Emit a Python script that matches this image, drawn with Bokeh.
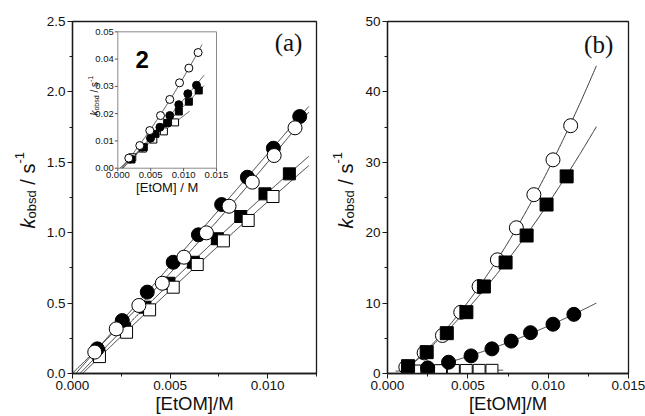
import numpy as np
from math import pi
from bokeh.plotting import figure
from bokeh.models import Range1d, SingleIntervalTicker, NumeralTickFormatter, Label
from bokeh.layouts import row
from bokeh.embed import file_html
from bokeh.resources import INLINE
from bokeh.core.properties import value

SANS = "Liberation Sans"
SERIF = "Liberation Serif"
NB = "\u00a0"

# ---------------- data: panel (a) ----------------
a_fc_x = [0.00127, 0.00255, 0.00383, 0.00516, 0.00645, 0.00764, 0.00896, 0.01029, 0.01164]
a_fc_y = [0.175, 0.376, 0.578, 0.790, 0.985, 1.200, 1.394, 1.600, 1.825]
a_oc_x = [0.00114, 0.00224, 0.00340, 0.00460, 0.00571, 0.00686, 0.00802, 0.00921, 0.01033, 0.01140]
a_oc_y = [0.152, 0.317, 0.483, 0.641, 0.826, 0.999, 1.188, 1.359, 1.548, 1.745]
a_fs_x = [0.00135, 0.00267, 0.00371, 0.00494, 0.00619, 0.00742, 0.00862, 0.00986, 0.01111]
a_fs_y = [0.140, 0.317, 0.471, 0.641, 0.790, 0.957, 1.115, 1.276, 1.418]
a_os_x = [0.00138, 0.00277, 0.00395, 0.00516, 0.00639, 0.00773, 0.00900, 0.01027]
a_os_y = [0.120, 0.293, 0.452, 0.613, 0.774, 0.942, 1.087, 1.257]

# ---------------- data: inset of (a) ----------------
i_oc_x = [0.00167, 0.00334, 0.00486, 0.00649, 0.00790, 0.00938, 0.01080, 0.01220]
i_oc_y = [0.0037, 0.0083, 0.0138, 0.0193, 0.0252, 0.0313, 0.0367, 0.0424]
i_fc_x = [0.00193, 0.00370, 0.00497, 0.00640, 0.00790, 0.00927, 0.01064, 0.01196]
i_fc_y = [0.0034, 0.0077, 0.0110, 0.0150, 0.0193, 0.0233, 0.0273, 0.0304]
i_fs_x = [0.00208, 0.00395, 0.00573, 0.00750, 0.00927, 0.01080, 0.01230]
i_fs_y = [0.0032, 0.0077, 0.0126, 0.0166, 0.0208, 0.0244, 0.0285]
i_os_x = [0.00220, 0.00380, 0.00540, 0.00700, 0.00870]
i_os_y = [0.0040, 0.0072, 0.0105, 0.0135, 0.0168]

# ---------------- data: panel (b) ----------------
b_oc_x = [0.00114, 0.00228, 0.00342, 0.00456, 0.00570, 0.00684, 0.00802, 0.00911, 0.01030, 0.01140]
b_oc_y = [0.90, 2.93, 5.40, 8.70, 12.36, 16.15, 20.70, 25.40, 30.35, 35.20]
b_fs_x = [0.00128, 0.00244, 0.00369, 0.00491, 0.00600, 0.00735, 0.00866, 0.00990, 0.01115]
b_fs_y = [1.04, 3.03, 5.73, 8.71, 12.36, 15.77, 19.60, 24.00, 28.00]
b_fc_x = [0.00250, 0.00380, 0.00520, 0.00650, 0.00770, 0.00890, 0.01030, 0.01160]
b_fc_y = [0.80, 1.60, 2.50, 3.50, 4.60, 5.80, 7.00, 8.40]
b_os_x = [0.00170, 0.00250, 0.00330, 0.00410, 0.00490, 0.00570, 0.00650]
b_os_y = [0.35, 0.38, 0.40, 0.42, 0.43, 0.44, 0.45]

# fit-line extents
a_fit_range = (0.0, 0.0121)
i_fit_range = {"oc": (0.0, 0.0128), "fc": (0.0, 0.0131), "fs": (0.0, 0.0131), "os": (0.0, 0.0109)}
b_fit_range = {"oc": (0.0, 0.0130), "fs": (0.0, 0.0130), "fc": (0.0, 0.0130), "os": (0.0005, 0.0072)}

# axes
A_X = (0.0, 0.0125)
A_Y = (0.0, 2.5)
B_X = (0.0, 0.015)
B_Y = (0.0, 50.0)
INSET_X = (0.0, 0.015)
INSET_Y = (0.0, 0.05)
inset_x_ticks = [0.0, 0.005, 0.010, 0.015]
inset_x_labels = ["0.000", "0.005", "0.010", "0.015"]
inset_y_ticks = [0.0, 0.01, 0.02, 0.03, 0.04, 0.05]
inset_y_labels = ["0.00", "0.01", "0.02", "0.03", "0.04", "0.05"]

# ---------------- geometry ----------------
FW_A, FW_B, FH = 244, 241, 352
BT, BB = 21, 43
LW_A, LW_B = 40, 40          # widths of the y-label strips
IN_L, IN_R = 0.1857, 0.5902   # inset box, fraction of frame (a) from left
IN_T, IN_B = 0.0293, 0.4168   # fraction of frame (a) from top


def inset_range(lo, hi, f0, f1):
    span = (hi - lo) / (f1 - f0)
    start = lo - f0 * span
    return Range1d(start, start + span)


ix_range = inset_range(INSET_X[0], INSET_X[1], IN_L, IN_R)
iy_range = inset_range(INSET_Y[0], INSET_Y[1], 1 - IN_B, 1 - IN_T)
SX = FW_A / (ix_range.end - ix_range.start)
SY = FH / (iy_range.end - iy_range.start)

EM = {"k": 0.5, "o": 0.556, "b": 0.556, "s": 0.5, "d": 0.556, " ": 0.278, NB: 0.278,
      "/": 0.278, "-": 0.333, "1": 0.556}


def tw(s, size):
    return sum(EM.get(c, 0.556) for c in s) * size


def fit_line(xs, ys, rng, deg=2):
    c = np.polyfit(np.asarray(xs) * 1000, ys, deg)
    xx = np.linspace(rng[0], rng[1], 300)
    yy = np.polyval(c, xx * 1000)
    m = yy >= 0
    return xx[m], yy[m]


def make_fig(xr, yr, fw, bl, br):
    p = figure(frame_width=fw, frame_height=FH, x_range=Range1d(*xr), y_range=Range1d(*yr),
               output_backend="svg", toolbar_location=None,
               min_border_left=bl, min_border_right=br, min_border_top=BT, min_border_bottom=BB)
    p.grid.visible = False
    p.background_fill_color = "white"
    p.border_fill_color = "white"
    p.outline_line_color = "#1a1a1a"
    p.outline_line_width = 1.3
    for ax in (p.xaxis[0], p.yaxis[0]):
        ax.major_tick_out = 5
        ax.major_tick_in = 0
        ax.minor_tick_out = 3
        ax.minor_tick_in = 0
        ax.axis_line_width = 1.3
        ax.axis_line_color = "#1a1a1a"
        ax.major_tick_line_color = "#1a1a1a"
        ax.minor_tick_line_color = "#1a1a1a"
        ax.major_label_text_font = SANS
        ax.major_label_text_font_size = "13.5px"
        ax.major_label_text_color = "#111111"
        ax.major_label_standoff = 2
    p.xaxis.axis_label = "[EtOM]/M"
    p.xaxis.axis_label_text_font = SANS
    p.xaxis.axis_label_text_font_size = "18.5px"
    p.xaxis.axis_label_text_font_style = "normal"
    p.xaxis.axis_label_text_color = "#111111"
    p.xaxis.axis_label_standoff = 0
    return p


def label_fig(width, yr):
    f = figure(frame_width=width, frame_height=FH, x_range=Range1d(0, width), y_range=Range1d(*yr),
               x_axis_type=None, y_axis_type=None, output_backend="svg", toolbar_location=None,
               min_border_left=0, min_border_right=0, min_border_top=BT, min_border_bottom=BB)
    f.outline_line_color = None
    f.background_fill_color = "white"
    f.border_fill_color = "white"
    return f


def vlabel(p, x0, y0, base_off, sy, main, sub, **rn):
    pieces = [("k", main, "italic", 0), ("obsd", sub, "normal", round(sub * 0.3)),
              (NB + "/" + NB + "s", main, "normal", 0), ("-1", sub, "normal", -round(main * 0.42))]
    y = y0
    for text, size, style, shift in pieces:
        p.add_layout(Label(x=x0, y=y, x_offset=base_off + shift, text=text, angle=pi / 2,
                           text_font=SANS, text_font_size=f"{size}px", text_font_style=style,
                           text_color="#111111", text_align="left", text_baseline="alphabetic",
                           **rn))
        y += tw(text, size) / sy


def markers(p, x, y, kind, filled, size, **rn):
    p.scatter(x, y, marker=kind, size=size, fill_color="black" if filled else "white",
              line_color="black", line_width=1, **rn)


# ================= panel (a) =================
la = label_fig(LW_A, A_Y)
sy_a = FH / (A_Y[1] - A_Y[0])
vlabel(la, 27, 1.03, 0, sy_a, 20, 13)

pa = make_fig(A_X, A_Y, FW_A, 72 - LW_A, 4)
pa.xaxis.ticker = SingleIntervalTicker(interval=0.005, num_minor_ticks=2)
pa.yaxis.ticker = SingleIntervalTicker(interval=0.5, num_minor_ticks=2)
pa.xaxis.formatter = NumeralTickFormatter(format="0.000")
pa.yaxis.formatter = NumeralTickFormatter(format="0.0")

for xs, ys in ((a_fc_x, a_fc_y), (a_oc_x, a_oc_y), (a_fs_x, a_fs_y), (a_os_x, a_os_y)):
    fx, fy = fit_line(xs, ys, a_fit_range)
    pa.line(fx, fy, line_color="#222222", line_width=0.9)
markers(pa, a_fs_x, a_fs_y, "square", True, 12)
markers(pa, a_os_x, a_os_y, "square", False, 12)
markers(pa, a_fc_x, a_fc_y, "circle", True, 14)
markers(pa, a_oc_x, a_oc_y, "circle", False, 14)

pa.add_layout(Label(x=0.01178, y=2.35, text="(a)", text_align="right", text_baseline="middle",
                    text_font=SERIF, text_font_size="25px", text_color="#111111"))

# ---- inset ----
pa.extra_x_ranges = {"ix": ix_range}
pa.extra_y_ranges = {"iy": iy_range}
R = dict(x_range_name="ix", y_range_name="iy")
pa.quad(left=[INSET_X[0]], right=[INSET_X[1]], bottom=[INSET_Y[0]], top=[INSET_Y[1]],
        fill_color="white", line_color="#8a8a8a", line_width=1, **R)
pa.segment(x0=inset_x_ticks, y0=[INSET_Y[0]] * 4, x1=inset_x_ticks, y1=[INSET_Y[0] - 3 / SY] * 4,
           line_color="#555555", line_width=1, **R)
pa.segment(x0=[INSET_X[0]] * 6, y0=inset_y_ticks, x1=[INSET_X[0] - 3 / SX] * 6, y1=inset_y_ticks,
           line_color="#555555", line_width=1, **R)
pa.text(x=inset_x_ticks, y=[INSET_Y[0] - 3.5 / SY] * 4, text=inset_x_labels,
        text_font=value(SANS), text_font_size="9.5px", text_align="center",
        text_baseline="top", text_color="#111111", **R)
pa.text(x=[INSET_X[0] - 4 / SX] * 6, y=inset_y_ticks, text=inset_y_labels,
        text_font=value(SANS), text_font_size="9.5px", text_align="right",
        text_baseline="middle", text_color="#111111", **R)
pa.add_layout(Label(x=(INSET_X[0] + INSET_X[1]) / 2, y=INSET_Y[0] - 19 / SY, text="[EtOM] / M",
                    text_align="center", text_baseline="middle", text_font=SANS,
                    text_font_size="13px", text_color="#111111", **R))
vlabel(pa, INSET_X[0], 0.0193, -23, SY, 10, 7, **R)
pa.add_layout(Label(x=0.0027, y=0.040, text="2", text_align="left", text_baseline="middle",
                    text_font=SANS, text_font_size="24px", text_font_style="bold",
                    text_color="#000000", **R))

for (xs, ys, key) in ((i_oc_x, i_oc_y, "oc"), (i_fc_x, i_fc_y, "fc"),
                      (i_fs_x, i_fs_y, "fs"), (i_os_x, i_os_y, "os")):
    fx, fy = fit_line(xs, ys, i_fit_range[key])
    pa.line(fx, fy, line_color="#222222", line_width=0.8, **R)
markers(pa, i_os_x, i_os_y, "square", False, 7, **R)
markers(pa, i_fs_x, i_fs_y, "square", True, 7, **R)
markers(pa, i_fc_x, i_fc_y, "circle", True, 8, **R)
markers(pa, i_oc_x, i_oc_y, "circle", False, 8, **R)

# ================= panel (b) =================
lb = label_fig(LW_B, B_Y)
sy_b = FH / (B_Y[1] - B_Y[0])
vlabel(lb, 25, 20.6, 0, sy_b, 20, 13)

pb = make_fig(B_X, B_Y, FW_B, 387 - 320 - LW_B, 17)
pb.xaxis.ticker = SingleIntervalTicker(interval=0.005, num_minor_ticks=2)
pb.yaxis.ticker = SingleIntervalTicker(interval=10, num_minor_ticks=2)
pb.xaxis.formatter = NumeralTickFormatter(format="0.000")
pb.yaxis.formatter = NumeralTickFormatter(format="0")

for (xs, ys, key) in ((b_oc_x, b_oc_y, "oc"), (b_fs_x, b_fs_y, "fs"),
                      (b_fc_x, b_fc_y, "fc"), (b_os_x, b_os_y, "os")):
    fx, fy = fit_line(xs, ys, b_fit_range[key], deg=1 if key == "os" else 2)
    pb.line(fx, fy, line_color="#222222", line_width=0.9)
markers(pb, b_os_x, b_os_y, "square", False, 12)
markers(pb, b_fc_x, b_fc_y, "circle", True, 14)
markers(pb, b_oc_x, b_oc_y, "circle", False, 14)
markers(pb, b_fs_x, b_fs_y, "square", True, 13)

pb.add_layout(Label(x=0.01405, y=46.7, text="(b)", text_align="right", text_baseline="middle",
                    text_font=SERIF, text_font_size="25px", text_color="#111111"))

layout = row(la, pa, lb, pb)
open("out.html", "w").write(file_html(layout, INLINE))
